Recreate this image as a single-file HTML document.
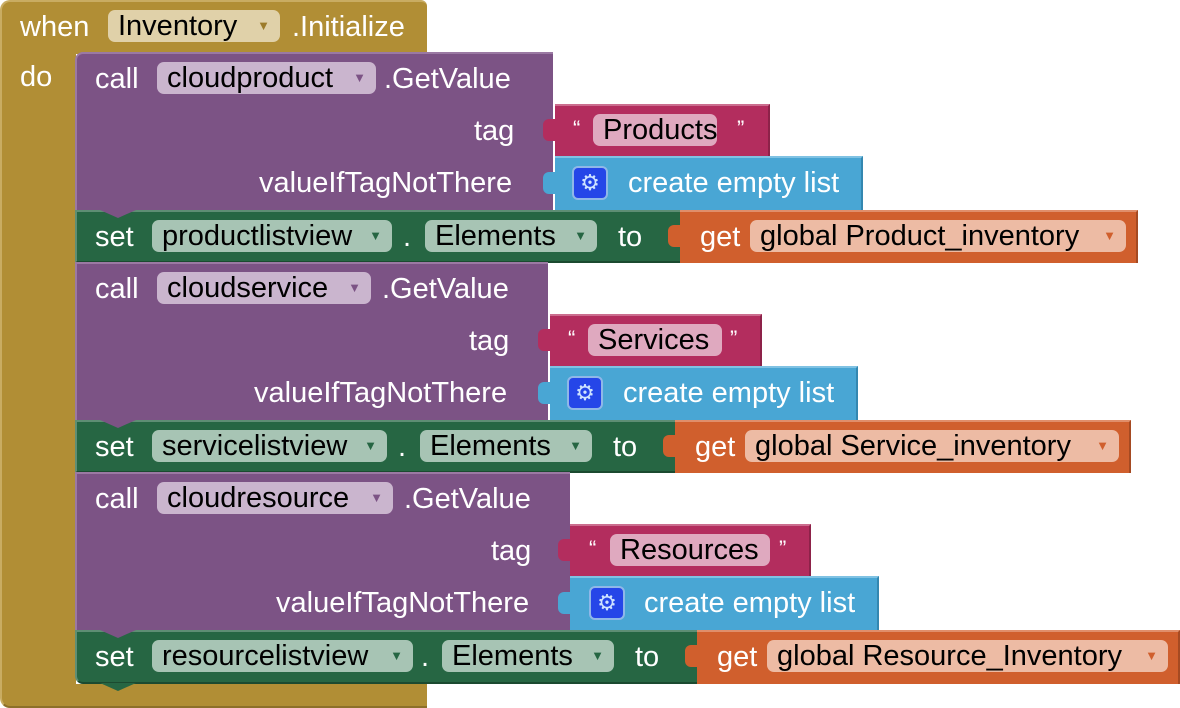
<!DOCTYPE html>
<html><head><meta charset="utf-8">
<style>
html,body{margin:0;padding:0;background:#fff;width:1180px;height:708px;overflow:hidden;position:relative;font-family:"Liberation Sans",Arial,sans-serif}
.b{position:absolute;box-sizing:border-box}
.t{position:absolute;font-size:29px;line-height:34px;height:34px;color:#fff;white-space:nowrap;margin-top:1px}
.p{position:absolute;height:32px;border-radius:7px;font-size:29px;line-height:33px;color:#000;padding-left:10px;box-sizing:border-box;white-space:nowrap}
.p .a{position:absolute;right:10px;top:0;font-size:13px;line-height:32px}
.ev{background:#B18E35}
.call{background:#7C5385;border-top:2px solid #9B79A3;border-left:2px solid #9B79A3}
.set{background:#266643;border-top:2px solid #5E8E74;border-left:2px solid #5E8E74;border-bottom:2px solid #1b4a30}
.txt{background:#B32D5E;border-top:2px solid #CB6D8E;border-right:2px solid #8d2249}
.lst{background:#49A6D4;border-top:2px solid #80C2E3;border-right:2px solid #3487b0}
.get{background:#D05F2D;border-top:2px solid #E08E6A;border-right:2px solid #a54a22}
.tab{position:absolute;width:12px;height:22px;border-radius:6px 0 0 6px}
.nt{position:absolute;width:0;height:0;border-left:18px solid transparent;border-right:18px solid transparent;border-top:8px solid}
.ic{position:absolute;width:36px;height:34px;border-radius:6px;background:#2546E8;border:2px solid #8fb7e8;box-sizing:border-box;color:#cfe3ff;font-size:22px;line-height:30px;text-align:center}
</style></head><body>

<!-- event block -->
<div class="b ev" style="left:0;top:0;width:427px;height:54px;border-radius:10px 6px 0 0;border-top:2px solid #C9AC62;border-left:2px solid #C9AC62"></div>
<div class="b ev" style="left:0;top:50px;width:76px;height:640px;border-left:2px solid #C9AC62"></div>
<div class="b ev" style="left:0;top:684px;width:427px;height:24px;border-radius:0 0 0 10px;border-left:2px solid #C9AC62;border-bottom:2px solid #8d7029"></div>
<div class="t" style="left:20px;top:9px">when</div>
<div class="p" style="left:108px;top:10px;width:172px;background:#E0D1A9">Inventory<span class="a" style="color:#9c7b2a">▼</span></div>
<div class="t" style="left:292px;top:9px">.Initialize</div>
<div class="t" style="left:20px;top:59px">do</div>

<!-- group 1 -->
<div class="b call" style="left:75px;top:52px;width:478px;height:158px;border-radius:8px 0 0 0"></div>
<div class="t" style="left:95px;top:61px">call</div>
<div class="p" style="left:157px;top:62px;width:219px;background:#CAB5CE">cloudproduct<span class="a" style="color:#7C5385">▼</span></div>
<div class="t" style="left:384px;top:61px">.GetValue</div>
<div class="t" style="left:474px;top:113px">tag</div>
<div class="t" style="left:259px;top:165px">valueIfTagNotThere</div>
<div class="b txt" style="left:555px;top:104px;width:215px;height:52px"></div>
<div class="tab" style="left:543px;top:119px;background:#B32D5E"></div>
<div class="t" style="left:573px;top:111px;font-size:22px">“</div>
<div class="p" style="left:593px;top:114px;width:124px;background:#DFA9BF">Products</div>
<div class="t" style="left:737px;top:111px;font-size:22px">”</div>
<div class="b lst" style="left:555px;top:156px;width:308px;height:54px"></div>
<div class="tab" style="left:543px;top:172px;background:#49A6D4"></div>
<div class="ic" style="left:572px;top:166px">⚙</div>
<div class="t" style="left:628px;top:165px">create empty list</div>
<div class="b set" style="left:75px;top:210px;width:607px;height:53px"></div>
<div class="nt" style="left:100px;top:210px;border-top-color:#7C5385"></div>
<div class="nt" style="left:100px;top:262px;border-top-color:#266643"></div>
<div class="t" style="left:95px;top:219px">set</div>
<div class="p" style="left:152px;top:220px;width:240px;background:#A7C4B4">productlistview<span class="a" style="color:#266643">▼</span></div>
<div class="t" style="left:403px;top:219px">.</div>
<div class="p" style="left:425px;top:220px;width:172px;background:#A7C4B4">Elements<span class="a" style="color:#266643">▼</span></div>
<div class="t" style="left:618px;top:219px">to</div>
<div class="b get" style="left:680px;top:210px;width:458px;height:53px"></div>
<div class="tab" style="left:668px;top:225px;background:#D05F2D"></div>
<div class="t" style="left:700px;top:219px">get</div>
<div class="p" style="left:750px;top:220px;width:376px;background:#EDBBA4">global Product_inventory<span class="a" style="color:#D05F2D">▼</span></div>

<!-- group 2 -->
<div class="b call" style="left:75px;top:262px;width:473px;height:158px"></div>
<div class="t" style="left:95px;top:271px">call</div>
<div class="p" style="left:157px;top:272px;width:214px;background:#CAB5CE">cloudservice<span class="a" style="color:#7C5385">▼</span></div>
<div class="t" style="left:382px;top:271px">.GetValue</div>
<div class="t" style="left:469px;top:323px">tag</div>
<div class="t" style="left:254px;top:375px">valueIfTagNotThere</div>
<div class="b txt" style="left:550px;top:314px;width:212px;height:52px"></div>
<div class="tab" style="left:538px;top:329px;background:#B32D5E"></div>
<div class="t" style="left:568px;top:321px;font-size:22px">“</div>
<div class="p" style="left:588px;top:324px;width:134px;background:#DFA9BF">Services</div>
<div class="t" style="left:730px;top:321px;font-size:22px">”</div>
<div class="b lst" style="left:550px;top:366px;width:308px;height:54px"></div>
<div class="tab" style="left:538px;top:382px;background:#49A6D4"></div>
<div class="ic" style="left:567px;top:376px">⚙</div>
<div class="t" style="left:623px;top:375px">create empty list</div>
<div class="b set" style="left:75px;top:420px;width:602px;height:53px"></div>
<div class="nt" style="left:100px;top:420px;border-top-color:#7C5385"></div>
<div class="nt" style="left:100px;top:472px;border-top-color:#266643"></div>
<div class="t" style="left:95px;top:429px">set</div>
<div class="p" style="left:152px;top:430px;width:235px;background:#A7C4B4">servicelistview<span class="a" style="color:#266643">▼</span></div>
<div class="t" style="left:398px;top:429px">.</div>
<div class="p" style="left:420px;top:430px;width:172px;background:#A7C4B4">Elements<span class="a" style="color:#266643">▼</span></div>
<div class="t" style="left:613px;top:429px">to</div>
<div class="b get" style="left:675px;top:420px;width:456px;height:53px"></div>
<div class="tab" style="left:663px;top:435px;background:#D05F2D"></div>
<div class="t" style="left:695px;top:429px">get</div>
<div class="p" style="left:745px;top:430px;width:374px;background:#EDBBA4">global Service_inventory<span class="a" style="color:#D05F2D">▼</span></div>

<!-- group 3 -->
<div class="b call" style="left:75px;top:472px;width:495px;height:158px"></div>
<div class="t" style="left:95px;top:481px">call</div>
<div class="p" style="left:157px;top:482px;width:236px;background:#CAB5CE">cloudresource<span class="a" style="color:#7C5385">▼</span></div>
<div class="t" style="left:404px;top:481px">.GetValue</div>
<div class="t" style="left:491px;top:533px">tag</div>
<div class="t" style="left:276px;top:585px">valueIfTagNotThere</div>
<div class="b txt" style="left:570px;top:524px;width:241px;height:52px"></div>
<div class="tab" style="left:558px;top:539px;background:#B32D5E"></div>
<div class="t" style="left:589px;top:531px;font-size:22px">“</div>
<div class="p" style="left:610px;top:534px;width:160px;background:#DFA9BF">Resources</div>
<div class="t" style="left:779px;top:531px;font-size:22px">”</div>
<div class="b lst" style="left:570px;top:576px;width:309px;height:54px"></div>
<div class="tab" style="left:558px;top:592px;background:#49A6D4"></div>
<div class="ic" style="left:589px;top:586px">⚙</div>
<div class="t" style="left:644px;top:585px">create empty list</div>
<div class="b set" style="left:75px;top:630px;width:624px;height:54px;border-radius:0 0 0 8px"></div>
<div class="nt" style="left:100px;top:630px;border-top-color:#7C5385"></div>
<div class="nt" style="left:100px;top:683px;border-top-color:#266643"></div>
<div class="t" style="left:95px;top:639px">set</div>
<div class="p" style="left:152px;top:640px;width:261px;background:#A7C4B4">resourcelistview<span class="a" style="color:#266643">▼</span></div>
<div class="t" style="left:421px;top:639px">.</div>
<div class="p" style="left:442px;top:640px;width:172px;background:#A7C4B4">Elements<span class="a" style="color:#266643">▼</span></div>
<div class="t" style="left:635px;top:639px">to</div>
<div class="b get" style="left:697px;top:630px;width:483px;height:54px"></div>
<div class="tab" style="left:685px;top:645px;background:#D05F2D"></div>
<div class="t" style="left:717px;top:639px">get</div>
<div class="p" style="left:767px;top:640px;width:401px;background:#EDBBA4">global Resource_Inventory<span class="a" style="color:#D05F2D">▼</span></div>

</body></html>
